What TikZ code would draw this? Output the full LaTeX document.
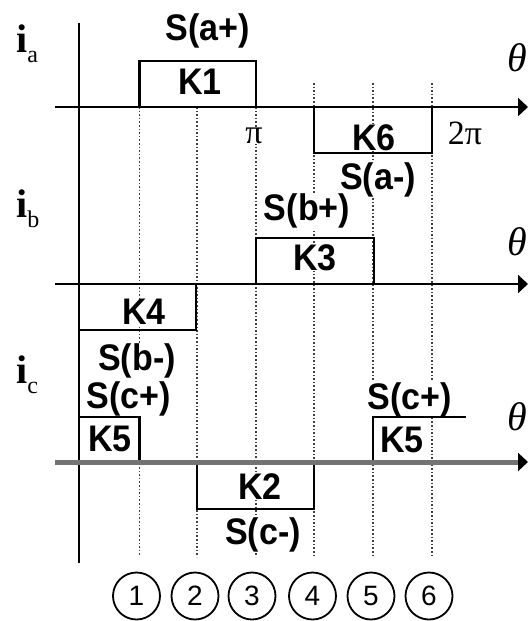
\documentclass[tikz,border=0pt]{standalone}
\usepackage{fontspec}
\setmainfont{Liberation Sans}
\newfontfamily\lblfont[FakeStretch=0.92]{Liberation Sans}
\newfontfamily\serfont{Liberation Serif}
\usetikzlibrary{arrows.meta}
\tikzset{
  axisline/.style={line width=2.5pt,black,-{Triangle[length=10pt,width=18pt]}},
  axisgray/.style={line width=5pt,black!55,-{Triangle[length=10pt,width=18pt,color=black]}},
  boxline/.style={line width=2.5pt,black},
  guide/.style={line width=1.4pt,black!75,dash pattern=on 1.6pt off 2pt},
  lbl/.style={font=\lblfont\bfseries\fontsize{37}{37}\selectfont,inner sep=0.3pt,fill=white},
  thetalbl/.style={font=\serfont\itshape\fontsize{40}{40}\selectfont,inner sep=0.5pt},
  pilbl/.style={font=\serfont\fontsize{34}{34}\selectfont,inner sep=0.5pt,fill=white},
  ilbl/.style={anchor=base west,inner sep=0pt},
  numcirc/.style={circle,draw,line width=1.8pt,minimum size=47pt,inner sep=0pt,font=\fontsize{28}{28}\selectfont}
}
\newcommand{\ilabel}[1]{{\serfont\bfseries\fontsize{40}{40}\selectfont i}{\serfont\fontsize{24}{24}\selectfont\raisebox{-10pt}{#1}}}
\begin{document}
\begin{tikzpicture}[x=1pt,y=-1pt]
\useasboundingbox (0,0) rectangle (531,621);
% guide (dotted) lines
\coordinate (d1t) at (139.5,107); \coordinate (d1b) at (139.5,557);
\coordinate (d2t) at (197,107);   \coordinate (d2b) at (197,557);
\coordinate (d3t) at (256,107);   \coordinate (d3b) at (256,557);
\coordinate (d4t) at (314,83);    \coordinate (d4b) at (314,557);
\coordinate (d5t) at (373,83);    \coordinate (d5b) at (373,557);
\coordinate (d6t) at (432,83);    \coordinate (d6b) at (432,557);
\foreach \i in {1,...,6} {\draw[guide] (d\i t) -- (d\i b);}
% labels
\node[lbl] (Sap) at (208,31) {S(a+)};
\node[lbl] (K1) at (200,82) {K1};
\node[pilbl] (pi) at (254,136) {π};
\node[lbl] (K6) at (374,138) {K6};
\node[pilbl] (twopi) at (465,133) {2π};
\node[lbl] (Sam) at (378,180) {S(a-)};
\node[thetalbl] (thA) at (517,58) {θ};
\node[lbl] (Sbp) at (307,211) {S(b+)};
\node[lbl] (K3) at (315,258) {K3};
\node[thetalbl] (thB) at (517,242) {θ};
\node[lbl] (K4) at (144,312) {K4};
\node[lbl] (Sbm) at (137,361) {S(b-)};
\node[lbl] (Scp1) at (129,399) {S(c+)};
\node[lbl] (Scp2) at (410,400) {S(c+)};
\node[thetalbl] (thC) at (517,417) {θ};
\node[lbl] (K5a) at (110,439) {K5};
\node[lbl] (K5b) at (402,440) {K5};
\node[lbl] (K2) at (260,487) {K2};
\node[lbl] (Scm) at (263,535) {S(c-)};
\node[ilbl] (ia) at (16,52) {\ilabel{a}};
\node[ilbl] (ib) at (16,217) {\ilabel{b}};
\node[ilbl] (ic) at (16,383) {\ilabel{c}};
% pulse boxes
\draw[boxline] (139.5,107) -- (139.5,61) -- (256,61) -- (256,107);   % K1
\draw[boxline] (314,107) -- (314,153) -- (432,153) -- (432,107);     % K6
\draw[boxline] (256,284) -- (256,238) -- (374,238) -- (374,284);     % K3
\draw[boxline] (79,330) -- (196,330) -- (196,284);                   % K4
\draw[boxline] (79,417) -- (139.5,417) -- (139.5,462);               % K5 left
\draw[boxline] (373,462) -- (373,417) -- (466,417);                  % K5 right
\draw[boxline] (197,462) -- (197,509) -- (314,509) -- (314,462);     % K2
% axes
\coordinate (vT) at (79,23); \coordinate (vB) at (79,563);
\draw[boxline] (vT) -- (vB);
\coordinate (aS) at (55,107); \coordinate (aE) at (528,107);
\coordinate (bS) at (55,284); \coordinate (bE) at (528,284);
\coordinate (cS) at (55,462); \coordinate (cE) at (528,462);
\draw[axisline] (aS) -- (aE);
\draw[axisline] (bS) -- (bE);
\draw[axisgray] (cS) -- (cE);
% numbered circles
\node[numcirc] (n1) at (136.5,596) {1};
\node[numcirc] (n2) at (195,596) {2};
\node[numcirc] (n3) at (252,596) {3};
\node[numcirc] (n4) at (312.5,596) {4};
\node[numcirc] (n5) at (371,596) {5};
\node[numcirc] (n6) at (429,596) {6};
\end{tikzpicture}
\end{document}
